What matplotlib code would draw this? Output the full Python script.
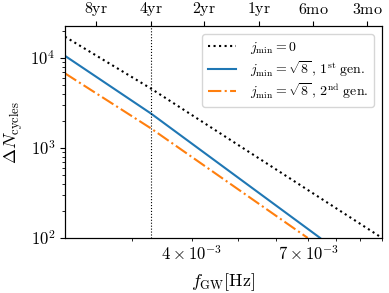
import numpy as np
import matplotlib
matplotlib.use('Agg')
import matplotlib.pyplot as plt
from matplotlib.ticker import FixedLocator, FixedFormatter, NullFormatter, NullLocator

plt.rcParams['mathtext.fontset'] = 'cm'
plt.rcParams['font.family'] = 'serif'
plt.rcParams['font.serif'] = ['DejaVu Serif']

# values (frequency in Hz, number of cycles)
f_j0 = [2.17e-3, 3.28e-3, 1.0e-2]
n_j0 = [1.73e4, 4.6e3, 100]

f_gen1 = [2.17e-3, 3.28e-3, 7.42e-3]
n_gen1 = [1.06e4, 2.43e3, 100]

f_gen2 = [2.17e-3, 3.28e-3, 6.99e-3]
n_gen2 = [6.77e3, 1.66e3, 100]

f_mission = 3.28e-3  # 4 yr before merger

# top axis: time to merger
top_freqs = [2.52e-3, 3.29e-3, 4.25e-3, 5.52e-3, 7.17e-3, 9.31e-3]
top_labels = ['8yr', '4yr', '2yr', '1yr', '6mo', '3mo']

bottom_ticks = [3e-3, 4e-3, 5e-3, 6e-3, 7e-3, 8e-3, 9e-3, 1e-2]
bottom_labels = ['', r'$4\times10^{-3}$', '', '', r'$7\times10^{-3}$', '', '', '']

fig = plt.figure(figsize=(3.89, 2.93), dpi=100)
ax = fig.add_axes([0.167, 0.188, 0.815, 0.723])

ax.plot(f_j0, n_j0, ls=':', color='k', lw=1.5, label=r'$j_{\rm min}=0$')
ax.plot(f_gen1, n_gen1, ls='-', color='#1f77b4', lw=1.5,
        label=r'$j_{\rm min}=\sqrt{8}\,,\,1^{\rm st}\ \mathrm{gen.}$')
ax.plot(f_gen2, n_gen2, ls='-.', color='#ff7f0e', lw=1.5,
        label=r'$j_{\rm min}=\sqrt{8}\,,\,2^{\rm nd}\ \mathrm{gen.}$')
ax.axvline(f_mission, color='k', ls=':', lw=0.8)

ax.set_xscale('log')
ax.set_yscale('log')
ax.set_xlim(2.17e-3, 1.0e-2)
ax.set_ylim(100, 2.27e4)

ax.xaxis.set_major_locator(NullLocator())
ax.xaxis.set_minor_locator(FixedLocator(bottom_ticks))
ax.xaxis.set_minor_formatter(FixedFormatter(bottom_labels))
ax.yaxis.set_major_locator(FixedLocator([1e2, 1e3, 1e4]))
ax.yaxis.set_major_formatter(FixedFormatter([r'$10^{2}$', r'$10^{3}$', r'$10^{4}$']))
ax.yaxis.set_minor_formatter(NullFormatter())
ax.tick_params(axis='both', which='both', labelsize=12)

ax.set_xlabel(r'$f_{\rm GW}[\rm Hz]$', fontsize=13, labelpad=5)
ax.set_ylabel(r'$\Delta N_{\rm cycles}$', fontsize=13)

ax.legend(loc='upper right', fontsize=10, labelspacing=0.2,
          borderaxespad=0.6, handletextpad=1.0)

ax2 = ax.twiny()
ax2.set_xscale('log')
ax2.set_xlim(ax.get_xlim())
ax2.xaxis.set_major_locator(FixedLocator(top_freqs))
ax2.xaxis.set_major_formatter(FixedFormatter([r'$\mathrm{%s}$' % t for t in top_labels]))
ax2.xaxis.set_minor_locator(NullLocator())
ax2.tick_params(axis='x', labelsize=11.5, pad=2)

fig.savefig('out.png', dpi=100)
